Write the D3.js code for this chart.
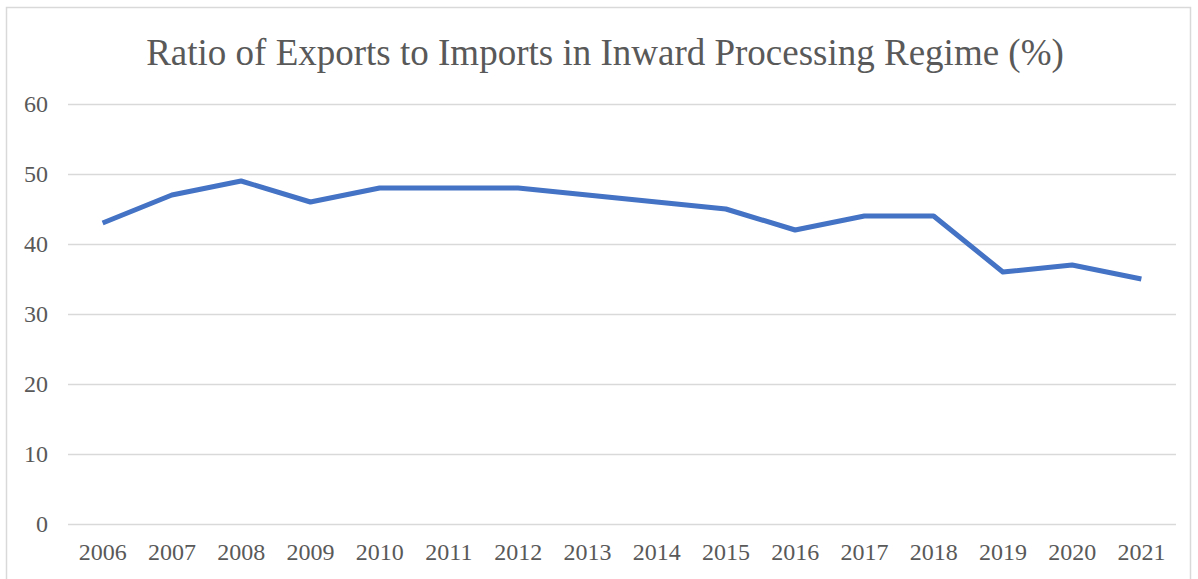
<!DOCTYPE html>
<html lang="en">
<head>
    <meta charset="UTF-8">
    <title>Ratio of Exports to Imports</title>
    <script src="https://d3js.org/d3.v7.min.js"></script>
    <style>
        body { margin: 0; background: #fff; }
        svg { display: block; }
        text { font-family: "Liberation Serif", "Times New Roman", serif; }
        .tick text { fill: #595959; font-size: 24px; }
        .grid .tick line { stroke: #d9d9d9; stroke-width: 1.5; }
        .domain { display: none; }
    </style>
</head>
<body>
<script>
    const years = ["2006","2007","2008","2009","2010","2011","2012","2013",
                   "2014","2015","2016","2017","2018","2019","2020","2021"];
    const ratio = [43, 47, 49, 46, 48, 48, 48, 47, 46, 45, 42, 44, 44, 36, 37, 35];
    const yTicks = [0, 10, 20, 30, 40, 50, 60];

    const width = 1198, height = 579;
    const plotLeft = 68, plotRight = 1176, plotTop = 104, plotBottom = 524;

    const svg = d3.select("body").append("svg")
        .attr("width", width).attr("height", height);

    // chart border
    svg.append("rect")
        .attr("x", 6.5).attr("y", 7.5)
        .attr("width", 1184).attr("height", 590)
        .attr("fill", "none").attr("stroke", "#d9d9d9").attr("stroke-width", 1.5);

    const x = d3.scaleBand().domain(years).range([plotLeft, plotRight]);
    const y = d3.scaleLinear().domain([0, 60]).range([plotBottom, plotTop]);

    svg.append("text")
        .attr("x", 605).attr("y", 65)
        .attr("text-anchor", "middle")
        .attr("fill", "#595959")
        .style("font-size", "37px")
        .text("Ratio of Exports to Imports in Inward Processing Regime (%)");

    svg.append("g").attr("class", "grid")
        .attr("transform", `translate(${plotLeft},0)`)
        .call(d3.axisLeft(y).tickValues(yTicks).tickSize(-(plotRight - plotLeft)).tickPadding(20));

    svg.append("g")
        .attr("transform", `translate(0,${plotBottom})`)
        .call(d3.axisBottom(x).tickSize(0).tickPadding(19));

    const line = d3.line()
        .x((d, i) => x(years[i]) + x.bandwidth() / 2)
        .y(d => y(d));

    svg.append("path")
        .datum(ratio)
        .attr("d", line)
        .attr("fill", "none")
        .attr("stroke", "#4472c4")
        .attr("stroke-width", 5)
        .attr("stroke-linejoin", "round");
</script>
</body>
</html>
